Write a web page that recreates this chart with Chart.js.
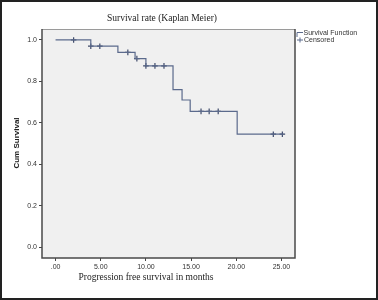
<!DOCTYPE html>
<html>
<head>
<meta charset="utf-8">
<script src="https://cdn.jsdelivr.net/npm/chart.js@4"></script>
<style>
  body { margin: 0; background: #fff; }
  canvas { display: block; }
</style>
</head>
<body>
<canvas id="chartJSContainer" width="378" height="300"></canvas>
<script>
// step function of the Kaplan-Meier curve (months, cum survival)
var stepTimes = [0, 3.9, 6.9, 8.8, 10, 13, 14, 14.9, 20.1, 25.2]
var stepSurv = [1.0, 0.97, 0.94, 0.91, 0.875, 0.76, 0.71, 0.655, 0.545, 0.545]
// censored cases
var censTimes = [2, 3.9, 4.9, 8, 9, 10, 11, 12, 16.1, 17, 18, 24.1, 25.1]
var censSurv = [1.0, 0.97, 0.97, 0.94, 0.91, 0.875, 0.875, 0.875, 0.655, 0.655, 0.655, 0.545, 0.545]
// axis ticks
var xTicks = [0, 5, 10, 15, 20, 25]
var xTickLabels = ['.00', '5.00', '10.00', '15.00', '20.00', '25.00']
var yTicks = [0, 0.2, 0.4, 0.6, 0.8, 1.0]
var yTickLabels = ['0.0', '0.2', '0.4', '0.6', '0.8', '1.0']

var lineCol = '#5b6a8c'
var markCol = '#3f4b6b'

const deco = {
  id: 'deco',
  beforeDraw(chart) {
    const c = chart.ctx, a = chart.chartArea
    c.save()
    c.fillStyle = '#fff'
    c.fillRect(0, 0, chart.width, chart.height)
    c.fillStyle = '#f0f0f0'
    c.fillRect(a.left, a.top, a.right - a.left, a.bottom - a.top)
    c.restore()
  },
  afterDraw(chart) {
    const c = chart.ctx, a = chart.chartArea
    c.save()
    // plot frame
    c.strokeStyle = '#9a9a9a'
    c.lineWidth = 1
    c.beginPath(); c.moveTo(a.left, a.top + 0.5); c.lineTo(a.right, a.top + 0.5); c.stroke()
    c.strokeStyle = '#4a4a4a'
    c.lineWidth = 1.5
    c.beginPath()
    c.moveTo(a.left, a.top); c.lineTo(a.left, a.bottom); c.lineTo(a.right, a.bottom); c.lineTo(a.right, a.top)
    c.stroke()
    // title
    c.fillStyle = '#222'
    c.textAlign = 'center'
    c.textBaseline = 'middle'
    c.font = '9.5px "Liberation Serif", "Times New Roman", serif'
    c.fillText('Survival rate (Kaplan Meier)', 162, 18)
    c.fillText('Progression free survival in months', 146, 277)
    // y title
    c.translate(17, 143)
    c.rotate(-Math.PI / 2)
    c.font = 'bold 8px "Liberation Sans", Arial, sans-serif'
    c.fillText('Cum Survival', 0, 0)
    c.setTransform(1, 0, 0, 1, 0, 0)
    // legend
    c.textAlign = 'left'
    c.font = '7px "Liberation Sans", Arial, sans-serif'
    c.fillStyle = '#333'
    c.strokeStyle = lineCol
    c.lineWidth = 1
    c.beginPath(); c.moveTo(297, 37); c.lineTo(297, 32.5); c.lineTo(303, 32.5); c.stroke()
    c.fillText('Survival Function', 303.5, 33)
    c.beginPath(); c.moveTo(297, 40); c.lineTo(303, 40); c.moveTo(300, 37.5); c.lineTo(300, 42.5); c.stroke()
    c.fillText('Censored', 304, 40.5)
    // outer frame
    c.strokeStyle = '#222'
    c.lineWidth = 2
    c.strokeRect(1, 1, chart.width - 2, chart.height - 2)
    c.restore()
  }
}

var options = {
  type: 'scatter',
  data: {
    datasets: [
      {
        label: 'Survival Function',
        data: stepTimes.map((t, i) => ({ x: t, y: stepSurv[i] })),
        showLine: true,
        stepped: 'before',
        borderColor: lineCol,
        borderWidth: 1.2,
        pointRadius: 0,
        fill: false,
      },
      {
        label: 'Censored',
        data: censTimes.map((t, i) => ({ x: t, y: censSurv[i] })),
        showLine: false,
        pointStyle: 'cross',
        pointRadius: 2.8,
        borderColor: markCol,
        borderWidth: 1.2,
      },
    ],
  },
  options: {
    responsive: false,
    animation: false,
    layout: { padding: { top: 29, right: 83, left: 0, bottom: 0 } },
    plugins: { legend: { display: false }, tooltip: { enabled: false } },
    scales: {
      x: {
        type: 'linear',
        min: -1.5,
        max: 26.5,
        afterFit: (s) => { s.height = 42 },
        afterBuildTicks: (s) => { s.ticks = xTicks.map((v) => ({ value: v })) },
        border: { display: false },
        grid: { drawOnChartArea: false, drawTicks: true, tickLength: 3, color: '#444' },
        ticks: {
          padding: 2,
          color: '#333',
          font: { family: '"Liberation Sans", Arial, sans-serif', size: 7 },
          callback: (v) => xTickLabels[xTicks.indexOf(v)],
        },
      },
      y: {
        type: 'linear',
        min: -0.053,
        max: 1.053,
        afterFit: (s) => { s.width = 42 },
        afterBuildTicks: (s) => { s.ticks = yTicks.map((v) => ({ value: v })) },
        border: { display: false },
        grid: { drawOnChartArea: false, drawTicks: true, tickLength: 3, color: '#444' },
        ticks: {
          padding: 2,
          color: '#333',
          font: { family: '"Liberation Sans", Arial, sans-serif', size: 7 },
          callback: (v) => yTickLabels[yTicks.indexOf(v)],
        },
      },
    },
  },
  plugins: [deco],
}

var ctx = document.getElementById('chartJSContainer').getContext('2d')
new Chart(ctx, options)
</script>
</body>
</html>
